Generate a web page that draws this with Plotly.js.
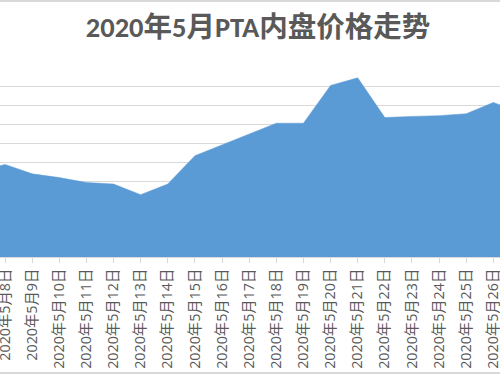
<!DOCTYPE html>
<html>
<head>
<meta charset="utf-8">
<script src="https://cdn.plot.ly/plotly-3.0.1.min.js"></script>
<style>
  html, body { margin: 0; padding: 0; background: #ffffff; }
  #wrap { position: relative; width: 500px; height: 375px; overflow: hidden; }
  #chart { width: 500px; height: 375px; }
  .edge { position: absolute; left: 0; width: 500px; height: 2px; background: #d9d9d9; }
</style>
</head>
<body>
<div id="wrap">
  <div id="chart"></div>
  <div class="edge" style="top:0px;"></div>
  <div class="edge" style="top:372px;"></div>
</div>
<script>
// Dates (categories) — the first and last fall just outside the visible crop
const dates = ["2020年5月7日","2020年5月8日","2020年5月9日","2020年5月10日","2020年5月11日",
  "2020年5月12日","2020年5月13日","2020年5月14日","2020年5月15日","2020年5月16日",
  "2020年5月17日","2020年5月18日","2020年5月19日","2020年5月20日","2020年5月21日",
  "2020年5月22日","2020年5月23日","2020年5月24日","2020年5月25日","2020年5月26日",
  "2020年5月27日"];
// PTA domestic price
const prices = [3225, 3245, 3220, 3210, 3197, 3193, 3165, 3193, 3268, 3297,
  3326, 3354, 3354, 3454, 3474, 3369, 3372, 3374, 3379, 3409, 3382];

const titleText = "2020年5月PTA内盘价格走势";
const fontFamily = "'Open Sans', 'Noto Sans CJK SC', sans-serif";

const trace = {
  type: "scatter",
  x: dates,
  y: prices,
  mode: "lines",
  fill: "tozeroy",
  fillcolor: "#5B9BD5",
  line: { color: "#5B9BD5", width: 0.5 },
  hoverinfo: "x+y"
};

const layout = {
  width: 500,
  height: 375,
  margin: { l: 0, r: 0, t: 68, b: 118, pad: 0 },
  paper_bgcolor: "#ffffff",
  plot_bgcolor: "#ffffff",
  showlegend: false,
  title: {
    text: "<b>" + titleText + "</b>",
    x: 0.516, xanchor: "center",
    y: 0.928, yref: "container", yanchor: "middle",
    font: { family: "Carlito, 'Noto Sans CJK SC', sans-serif", size: 28.5, color: "#595959" }
  },
  xaxis: {
    type: "category",
    range: [0.8157, 19.245],
    tickangle: -90,
    ticks: "outside",
    ticklen: 5,
    tickcolor: "#d9d9d9",
    showline: true,
    linecolor: "#d9d9d9",
    linewidth: 1,
    showgrid: false,
    tickfont: { family: fontFamily, size: 14.3, color: "#595959" },
    fixedrange: true
  },
  yaxis: {
    range: [3000, 3500],
    dtick: 50,
    tick0: 3000,
    showticklabels: false,
    showgrid: true,
    gridcolor: "#d9d9d9",
    gridwidth: 1,
    zeroline: false,
    showline: false,
    ticks: "",
    fixedrange: true
  }
};

Plotly.newPlot("chart", [trace], layout, { displayModeBar: false, staticPlot: true });
</script>
</body>
</html>
